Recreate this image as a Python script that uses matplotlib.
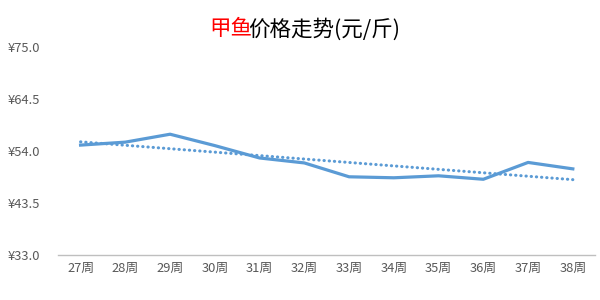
import matplotlib
matplotlib.use("Agg")
import matplotlib.pyplot as plt
import numpy as np

plt.rcParams['font.family'] = ['Noto Sans CJK SC', 'DejaVu Sans']

weeks = ["27周", "28周", "29周", "30周", "31周", "32周", "33周", "34周", "35周", "36周", "37周", "38周"]
prices = [55.2, 55.8, 57.4, 55.1, 52.6, 51.6, 48.8, 48.6, 49.0, 48.3, 51.7, 50.4]
yticks = [33.0, 43.5, 54.0, 64.5, 75.0]
title_red = "甲鱼"
title_black = "价格走势(元/斤)"

line_color = "#5B9BD5"
text_color = "#595959"

fig = plt.figure(figsize=(6, 3), dpi=100)
ax = fig.add_axes([0.097, 0.15, 0.895, 0.693])

x = np.arange(len(weeks))
ax.plot(x, prices, color=line_color, lw=2.3, solid_joinstyle='round', zorder=3)
coef = np.polyfit(x, prices, 1)
trend = np.polyval(coef, x)
ax.plot(x, trend, color=line_color, lw=2.2, linestyle=(0, (0.1, 1.6)),
        dash_capstyle='round', zorder=2)

ax.set_xlim(-0.5, len(weeks) - 0.5)
ax.set_ylim(yticks[0], yticks[-1])
ax.set_yticks(yticks)
ax.set_yticklabels([f"¥{v:.1f}" for v in yticks])
ax.set_xticks(x)
ax.set_xticklabels(weeks)
ax.tick_params(axis='both', length=0, colors=text_color, labelsize=9.3)
ax.tick_params(axis='y', pad=13)
ax.tick_params(axis='x', pad=5)
for s in ['top', 'right', 'left']:
    ax.spines[s].set_visible(False)
ax.spines['bottom'].set_color('#BFBFBF')
ax.spines['bottom'].set_linewidth(1.0)

# two-colour title
fig.canvas.draw()
r = fig.canvas.get_renderer()
cx, cy = 0.505, 0.903
fs = 15.5
full = fig.text(cx, cy, title_red + title_black, fontsize=fs, ha='center', va='center')
bb = full.get_window_extent(r)
full.remove()
blk = fig.text(bb.x1 / fig.bbox.width, cy, title_black, fontsize=fs, color='#000000',
               ha='right', va='center')
bk = blk.get_window_extent(r)
fig.text((bk.x0 + 4) / fig.bbox.width, cy, title_red, fontsize=fs, color='#FF0000',
         ha='right', va='center')

fig.savefig("out.png", dpi=100)
